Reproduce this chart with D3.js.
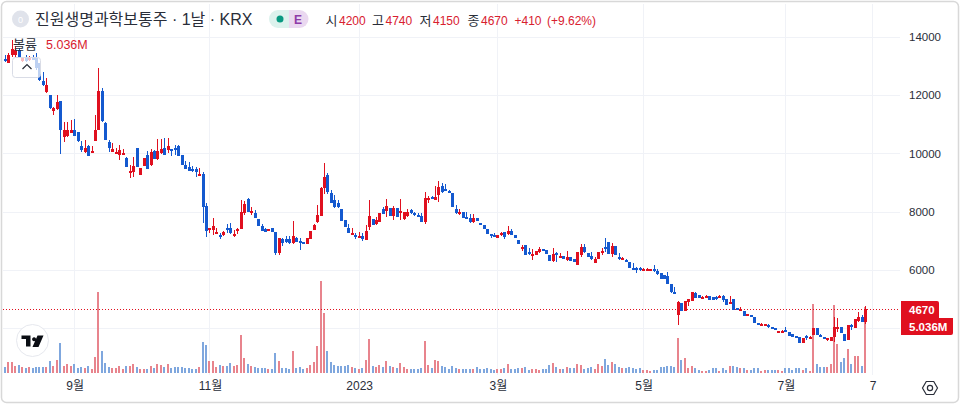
<!DOCTYPE html>
<html><head><meta charset="utf-8">
<style>html,body{margin:0;padding:0;background:#fff;overflow:hidden}svg{display:block}
text{font-family:"Liberation Sans","Noto Sans CJK KR",sans-serif}</style>
<script src="https://cdn.jsdelivr.net/npm/d3@7"></script></head><body><svg id="c" width="960" height="404"></svg>
<script>
const title="진원생명과학보통주 · 1날 · KRX";
const ohlcHeader=[["시","4200",339],["고","4740",385.5],["저","4150",433],["종","4670",481]];
const priceTicks=[14000,12000,10000,8000,6000];
const gridPrices=[14000,12000,10000,8000,6000,4000];
const timeTickIndex=[20,59,102,142,184,225,250];
const timeTickLabels=["9월","11월","2023","3월","5월","7월","7"];
const lastClose=4670, lastVolume=5.036;
// [open, high, low, close] per session
const ohlc=[
[13250,13380,13140,13180],[13110,13450,13100,13380],[13380,13900,13310,13590],[13380,13690,13310,13550],[13550,13620,13310,13310],
[13180,13280,13140,13280],[13310,13380,13140,13180],[13210,13350,13180,13280],[13310,13380,13210,13210],[13280,13450,12870,12940],
[13110,13110,12490,12520],[12490,12800,12320,12350],[12110,12590,12080,12350],[12010,12010,11530,11560],[11460,11600,11320,11560],
[11530,12010,11490,11770],[11800,11800,9980,10810],[10570,11080,10400,10810],[10600,11080,10570,10810],[10700,11150,10700,10810],
[10810,11190,10600,10600],[10740,10740,10400,10430],[10260,10430,10050,10120],[10050,10460,10020,10190],[10260,10290,9910,9910],
[10020,10260,10020,10090],[10430,11320,10430,10810],[10810,12940,10810,12150],[12150,12250,11080,11120],[11050,11080,10460,10460],
[10400,10460,10050,10190],[10050,10360,10050,10150],[10020,10190,9980,10050],[9950,10290,9780,10120],[9950,10150,9950,10000],
[9850,9880,9540,9540],[9330,9610,9160,9400],[9370,9880,9190,9570],[10190,10190,9540,9540],[9260,9500,9260,9500],
[9570,9850,9570,9850],[9950,10090,9470,9470],[9610,10150,9570,10050],[10090,10120,9810,9810],[9810,10500,9780,10090],
[10020,10500,9980,10150],[10190,10530,9950,9950],[10120,10530,10020,10260],[10150,10150,9910,10090],[10190,10290,9950,10120],
[10260,10290,9910,9910],[9950,9950,9610,9610],[9610,9740,9470,9470],[9540,9710,9400,9400],[9470,9570,9370,9400],
[9470,9540,9190,9370],[9230,9500,9230,9300],[9300,9370,7610,8160],[8200,8300,7140,7340],[7370,7440,7270,7440],
[7370,7790,7200,7510],[7270,7440,7270,7310],[7200,7270,7060,7170],[7200,7340,7170,7310],[7440,7580,7270,7370],
[7440,7610,7240,7270],[7170,7370,7140,7240],[7340,7440,7240,7410],[7410,8400,7410,8000],[7960,8370,7890,8260],
[8440,8470,8000,8000],[7990,8160,7890,8030],[7960,8060,7790,7790],[7750,7750,7510,7510],[7510,7580,7340,7340],
[7410,7440,7300,7310],[7340,7410,7340,7410],[7440,7440,7300,7300],[7300,7300,6520,6590],[6590,7100,6520,7100],
[7070,7100,6830,6930],[7070,7170,6930,6960],[7070,7170,6890,6930],[6930,7680,6890,7170],[7100,7140,6960,6960],
[7000,7100,6690,6960],[6960,6960,6890,6890],[6890,7100,6890,7100],[7070,7340,7070,7340],[7370,7580,7370,7550],
[7650,8230,7610,7890],[7850,8850,7850,8820],[8820,9670,8610,9190],[9260,9330,8610,8680],[8640,8750,8300,8300],
[8400,8580,8130,8160],[8300,8400,8130,8160],[8090,8090,7680,7680],[7720,7720,7480,7480],[7440,7580,7270,7270],
[7240,7440,7200,7270],[7200,7270,7060,7130],[7130,7310,7100,7170],[7170,7270,7000,7060],[7030,7540,7030,7340],
[7480,8400,7380,7850],[7750,7750,7550,7550],[7580,7820,7550,7720],[7650,7960,7650,7960],[8090,8160,7920,7920],
[8030,8440,7820,8200],[8130,8130,7860,7860],[7860,8200,7720,8130],[8130,8130,7820,7820],[7990,8440,7720,8030],
[7750,8000,7720,8000],[7860,8090,7820,8000],[8060,8090,7920,7960],[7960,8000,7860,7890],[7890,7960,7860,7860],
[7860,7960,7650,7650],[7650,8680,7580,8470],[8440,8540,8300,8470],[8510,8540,8430,8440],[8400,8880,8400,8510],
[8580,9060,8340,8850],[8880,8990,8640,8680],[8780,8950,8710,8750],[8710,8730,8640,8640],[8640,8640,8160,8160],
[8090,8230,7920,7960],[7960,8090,7890,8000],[8000,8000,7790,7790],[7820,8000,7750,7790],[7790,7920,7610,7650],
[7650,7920,7610,7790],[7790,7790,7680,7680],[7610,7610,7540,7540],[7540,7540,7400,7410],[7410,7410,7240,7240],
[7240,7240,7100,7200],[7200,7270,7130,7170],[7100,7200,7100,7200],[7200,7310,7170,7270],[7310,7310,7060,7130],
[7240,7510,7200,7340],[7340,7410,7200,7200],[7200,7200,7100,7100],[7030,7030,6890,6890],[6720,6860,6650,6790],
[6860,6860,6520,6520],[6620,6760,6520,6550],[6520,6720,6340,6550],[6520,6650,6520,6650],[6620,6790,6580,6720],
[6720,6720,6650,6650],[6690,6690,6550,6550],[6520,6520,6310,6310],[6310,6760,6280,6550],[6590,6620,6280,6550],
[6450,6580,6410,6480],[6480,6480,6380,6380],[6340,6650,6310,6450],[6450,6450,6310,6310],[6380,6380,6280,6280],
[6170,6620,6170,6620],[6520,6890,6450,6790],[6790,6890,6580,6620],[6580,6580,6450,6450],[6480,6620,6340,6380],
[6240,6450,6240,6380],[6380,6620,6380,6620],[6580,6760,6520,6650],[6790,7100,6620,6760],[6960,6960,6550,6550],
[6550,6930,6450,6820],[6820,6820,6520,6520],[6450,6580,6340,6380],[6340,6450,6340,6410],[6340,6380,6280,6280],
[6280,6280,6070,6070],[6070,6240,6000,6000],[6070,6100,5900,6040],[6070,6100,5970,6000],[5970,6070,5970,6040],
[5970,6070,5970,6040],[5980,6040,5970,6030],[6040,6170,5930,5970],[5970,6040,5830,5860],[5900,5900,5690,5690],
[5830,5830,5690,5690],[5800,5930,5520,5520],[5520,5520,5210,5240],[5240,5420,5170,5210],[4460,4940,4110,4900],
[4870,4870,4590,4590],[4590,4940,4590,4940],[4900,5000,4760,5000],[4940,5250,4940,5250],[5210,5250,5040,5040],
[5140,5140,5040,5040],[5040,5110,5000,5070],[5070,5140,5040,5110],[5110,5110,4970,4970],[5070,5070,4970,4970],
[5070,5110,4970,5040],[5040,5140,5040,5110],[5110,5140,4900,4970],[5000,5000,4800,4800],[4830,5110,4830,4900],
[5000,5000,4630,4630],[4700,4700,4630,4630],[4630,4730,4590,4660],[4590,4590,4420,4420],[4420,4490,4420,4470],
[4460,4460,4400,4410],[4390,4390,4180,4180],[4180,4180,4110,4150],[4110,4180,4110,4150],[4090,4150,4090,4130],
[4110,4150,4010,4040],[4040,4040,3970,3970],[4010,4010,3940,3940],[3870,3910,3870,3910],[3840,3940,3840,3910],
[3940,4040,3870,3870],[3870,3870,3730,3730],[3800,3800,3700,3700],[3730,3730,3670,3670],[3700,3700,3500,3500],
[3500,3670,3500,3670],[3730,3770,3600,3670],[3670,3720,3640,3700],[3770,4010,3770,4010],[4010,4010,3770,3770],
[3770,3800,3700,3700],[3700,3700,3640,3670],[3620,3670,3570,3640],[3570,3700,3570,3700],[3700,4390,3530,4040],
[3970,4350,3870,4040],[4040,4040,3840,3840],[3800,3800,3560,3570],[3600,4110,3600,4110],[4110,4150,3940,4040],
[4010,4320,4010,4320],[4250,4560,4220,4390],[4390,4460,4220,4220],[4200,4740,4150,4670]];
// volume in millions per session
const volumes=[
.44,.82,.82,.51,.59,.44,.36,.44,.38,.44,.44,.44,.44,.9,.51,.97,2.31,.51,.67,.54,
.67,.38,.44,.38,.51,.28,1.2,6.21,1.67,.74,.44,.36,.36,.51,.28,.51,.51,.67,.44,.28,
.28,.28,.51,.38,.67,.59,.44,.67,.38,.44,.44,.44,.38,.36,.28,.28,.44,2.36,2.13,.9,
.9,.44,.59,.51,.51,.74,.51,.59,2.9,1.13,.67,.51,.44,.36,.36,.36,.28,.28,1.51,.9,
.36,.36,.28,1.67,.36,.44,.28,.36,.59,.82,2.05,7.05,4.62,1.67,.82,.59,.51,.51,.51,.59,
.44,.36,.28,.36,.97,2.59,.51,.44,.59,.44,.9,.51,.44,.36,.74,.44,.28,.28,.28,.28,
.36,2.44,.59,.36,.97,.9,.51,.44,.28,.51,.36,.28,.28,.28,.28,.28,.44,.28,.28,.36,
.28,.2,.28,.28,.36,.67,.28,.28,.36,.36,.44,.2,.28,.28,.2,.28,.28,.59,.74,.44,
.28,.28,.44,.36,.36,.67,.59,.28,.36,.44,.28,.67,.51,1.05,.59,.82,.67,.44,.36,.36,
.44,.36,.28,.36,.26,.26,.18,.26,.26,.44,.44,.56,.56,.44,2.67,.97,1.13,.36,.56,.41,
.26,.18,.18,.26,.36,.36,.18,.36,.26,.51,.56,.44,.36,.36,.26,.26,.36,.36,.18,.26,
.26,.26,.26,.26,.18,.36,.36,.26,.36,.36,.26,.36,.18,5.26,.72,.44,.44,.44,.72,5.23,
2.21,.82,1.13,1.82,.72,1.28,1.28,.56,5.036];

const RED="#e0101f",BLUE="#1459cf",VRED="#e8848d",VBLUE="#7fa7de",GRID="#f0f2f7",INK="#2a2e39",HRED="#d8202f";
const svg=d3.select("#c");
const x=d3.scaleLinear().domain([0,ohlc.length-1]).range([5.3,865.7]);
const y=d3.scaleLinear().domain([4000,14000]).range([328,37]);
const v=d3.scaleLinear().domain([0,7.05]).range([373,281]);
const px=i=>Math.round(x(i)-.5);

// grid
const grid=svg.append("g").attr("stroke",GRID).attr("stroke-width",1).attr("shape-rendering","crispEdges");
grid.selectAll(".h").data(gridPrices).join("line").attr("x1",3).attr("x2",900)
  .attr("y1",d=>Math.round(y(d))+.5).attr("y2",d=>Math.round(y(d))+.5);
grid.selectAll(".v").data(timeTickIndex).join("line").attr("y1",4).attr("y2",375)
  .attr("x1",d=>Math.round(x(d)-.5)+.5).attr("x2",d=>Math.round(x(d)-.5)+.5);

// volume
svg.append("g").attr("shape-rendering","crispEdges").selectAll("rect").data(volumes).join("rect")
  .attr("x",(d,i)=>px(i)-1).attr("width",2)
  .attr("y",d=>v(d)).attr("height",d=>v(0)-v(d))
  .attr("fill",(d,i)=>ohlc[i][3]>=ohlc[i][0]?VRED:VBLUE);

// last price line
svg.append("line").attr("x1",3).attr("x2",900).attr("y1",Math.round(y(lastClose))+.5).attr("y2",Math.round(y(lastClose))+.5)
  .attr("stroke",RED).attr("stroke-dasharray","1 2").attr("shape-rendering","crispEdges");

// candles
const cg=svg.append("g").attr("shape-rendering","crispEdges");
const col=d=>d[3]>=d[0]?RED:BLUE;
cg.selectAll(".w").data(ohlc).join("rect").attr("x",(d,i)=>px(i)).attr("width",1)
  .attr("y",d=>y(d[1])).attr("height",d=>y(d[2])-y(d[1])).attr("fill",col);
cg.selectAll(".b").data(ohlc).join("rect").attr("x",(d,i)=>px(i)-1).attr("width",3)
  .attr("y",d=>y(Math.max(d[0],d[3]))).attr("height",d=>Math.max(2,Math.abs(y(d[0])-y(d[3])))).attr("fill",col);

// axes
const ya=svg.append("g").attr("transform","translate(900,0)")
  .call(d3.axisRight(y).tickValues(priceTicks).tickSize(0).tickPadding(9).tickFormat(d3.format("d")));
ya.select(".domain").remove();
ya.selectAll("text").attr("font-size",11.5).attr("fill",INK).style("font-family",'"Liberation Sans",sans-serif');
const xa=svg.append("g").attr("transform","translate(0,373)")
  .call(d3.axisBottom(x).tickValues(timeTickIndex).tickSize(0).tickPadding(8).tickFormat((d,i)=>timeTickLabels[i]));
xa.select(".domain").remove();
xa.selectAll("text").attr("font-size",12).attr("fill",INK).attr("dy","0.75em");

// price labels
const lab=svg.append("g");
lab.append("path").attr("d","M901 301H937a2 2 0 0 1 2 2V318H901Z").attr("fill",RED);
lab.append("path").attr("d","M901 318H953V333a2 2 0 0 1-2 2H901Z").attr("fill",RED);
lab.append("text").attr("x",909).attr("y",314).attr("font-size",11.5).attr("font-weight",700).attr("fill","#fff").text(lastClose);
lab.append("text").attr("x",909).attr("y",331).attr("font-size",11.5).attr("font-weight",700).attr("fill","#fff").text(lastVolume.toFixed(3)+"M");

// header
const h=svg.append("g");
h.append("circle").attr("cx",20.5).attr("cy",19).attr("r",8.5).attr("fill","#e0e3eb");
h.append("text").attr("x",20.5).attr("y",22.5).attr("text-anchor","middle").attr("font-size",9).attr("fill","#fff").text("0");
h.append("text").attr("x",35).attr("y",25).attr("font-size",16).attr("fill",INK).text(title);
h.append("path").attr("d","M289 10H278a9 9 0 0 0 0 18H289Z").attr("fill","#dcf2ed");
h.append("path").attr("d","M289 10H299.5a9 9 0 0 1 0 18H289Z").attr("fill","#ead8f0");
h.append("circle").attr("cx",280).attr("cy",19).attr("r",3.5).attr("fill","#089981");
h.append("text").attr("x",298).attr("y",23.5).attr("text-anchor","middle").attr("font-size",12).attr("font-weight",700).attr("fill","#8e3ba8").text("E");
ohlcHeader.forEach(([k,val,xx])=>{
  h.append("text").attr("x",xx-13.5).attr("y",25).attr("font-size",13).attr("fill",INK).text(k);
  h.append("text").attr("x",xx).attr("y",25).attr("font-size",12).attr("fill",HRED).text(val);
});
h.append("text").attr("x",514.5).attr("y",25).attr("font-size",12).attr("fill",HRED).text("+410");
h.append("text").attr("x",547).attr("y",25).attr("font-size",12).attr("fill",HRED).text("(+9.62%)");

// volume legend
const l=svg.append("g");
l.append("rect").attr("x",12.5).attr("y",57.5).attr("width",28).attr("height",20).attr("rx",3)
  .attr("fill","#fff").attr("fill-opacity",.72).attr("stroke","#d9dce6");
l.append("path").attr("d","M22.5 69L27 64.5L31.5 69").attr("fill","none").attr("stroke",INK).attr("stroke-width",1.2);
l.append("text").attr("x",13).attr("y",49).attr("font-size",13).attr("fill",INK).text("볼륨");
l.append("text").attr("x",46).attr("y",49).attr("font-size",12.5).attr("fill",HRED).text(lastVolume.toFixed(3)+"M");

// logo
const tv=svg.append("g").attr("transform","translate(32.5,340.5)");
tv.append("circle").attr("r",16).attr("fill","#fff").attr("stroke","#e6e8ee").attr("stroke-width",1);
tv.append("path").attr("fill","#0b0e14").attr("d","M-11-5H-2V6H-6.5V-1.5H-11ZM5-5H11L6 6.5H0ZM1.6-3.2a2 2 0 1 1-.01 0Z");

// settings
const gear=d3.range(6).map(k=>{const a=Math.PI/3*k;return [930+7.5*Math.cos(a),388+7.5*Math.sin(a)];});
svg.append("path").attr("d",d3.line()(gear)+"Z").attr("fill","none").attr("stroke",INK).attr("stroke-width",1.2);
svg.append("circle").attr("cx",930).attr("cy",388).attr("r",2.6).attr("fill","none").attr("stroke",INK).attr("stroke-width",1.2);

// frame
svg.append("rect").attr("x",1.5).attr("y",1.5).attr("width",957).attr("height",401).attr("rx",5)
  .attr("fill","none").attr("stroke","#d8d8d8").attr("stroke-width",1.5);
</script></body></html>
